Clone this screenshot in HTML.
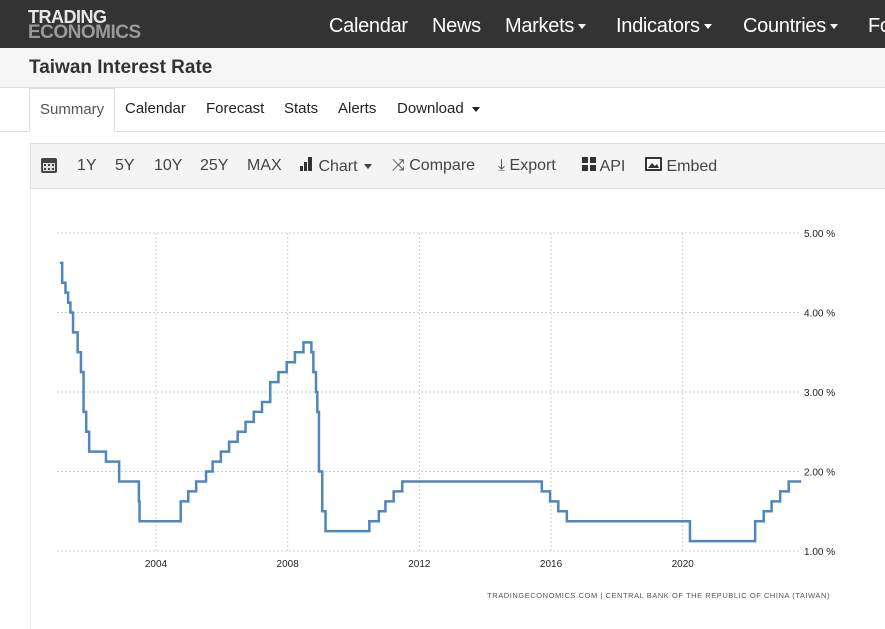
<!DOCTYPE html>
<html><head><meta charset="utf-8"><style>
*{margin:0;padding:0;box-sizing:border-box}
body{width:885px;height:628px;overflow:hidden;background:#fff;font-family:"Liberation Sans",Arial,sans-serif;position:relative}
.nav{position:absolute;left:0;top:0;width:885px;height:48px;background:#333}
.logo{position:absolute;left:28px;top:9px;font-weight:bold;font-size:18px;line-height:16px;letter-spacing:-0.5px}
.logo .a{color:#e8e8e8}.logo .b{color:#9a9a9a;font-size:19px}
.nav .it{position:absolute;top:15px;color:#fff;font-size:20px;white-space:nowrap;letter-spacing:-0.3px}
.caret{display:inline-block;width:0;height:0;border-left:4px solid transparent;border-right:4px solid transparent;border-top:5px solid currentColor;vertical-align:middle;margin-left:4px}
.title{position:absolute;left:0;top:48px;width:885px;height:40px;background:#f5f5f5;border-bottom:1px solid #ddd}
.title span{position:absolute;left:29px;top:9px;font-size:19px;font-weight:bold;color:#333}
.tabs{position:absolute;left:0;top:88px;width:885px;height:44px;border-bottom:1px solid #ddd}
.tab{position:absolute;top:12px;font-size:15px;color:#222}
.tab.sel{top:0;left:29px;width:86px;height:44px;border:1px solid #ddd;border-bottom:1px solid #fff;background:#fff;color:#555;padding:12px 0 0 10px}
.tool{position:absolute;left:30px;top:143px;width:860px;height:46px;background:#f4f4f4;border:1px solid #ddd}
.tool .t{position:absolute;top:13px;font-size:16px;color:#444;white-space:nowrap}
.chartbox{position:absolute;left:30px;top:189px;width:860px;height:440px;border-left:1px solid #eee}
</style></head><body>
<div class="nav">
 <div class="logo"><div class="a">TRADING</div><div class="b">ECONOMICS</div></div>
 <div class="it" style="left:329px">Calendar</div>
 <div class="it" style="left:432px">News</div>
 <div class="it" style="left:505px">Markets<span class="caret"></span></div>
 <div class="it" style="left:616px">Indicators<span class="caret"></span></div>
 <div class="it" style="left:743px">Countries<span class="caret"></span></div>
 <div class="it" style="left:868px">Fo</div>
</div>
<div class="title"><span>Taiwan Interest Rate</span></div>
<div class="tabs">
 <div class="tab sel">Summary</div>
 <div class="tab" style="left:125px">Calendar</div>
 <div class="tab" style="left:206px">Forecast</div>
 <div class="tab" style="left:284px">Stats</div>
 <div class="tab" style="left:338px">Alerts</div>
 <div class="tab" style="left:397px">Download<span class="caret" style="margin-left:8px"></span></div>
</div>
<div class="tool">
 <div class="t" style="left:9px;top:12px"><svg width="18" height="18"><rect x="1" y="2" width="16" height="15" rx="2" fill="#444"/><rect x="3" y="7" width="12" height="8" fill="#ddd"/><g fill="#444"><rect x="4" y="8" width="2" height="2"/><rect x="8" y="8" width="2" height="2"/><rect x="12" y="8" width="2" height="2"/><rect x="4" y="12" width="2" height="2"/><rect x="8" y="12" width="2" height="2"/><rect x="12" y="12" width="2" height="2"/></g></svg></div>
 <div class="t" style="left:46px">1Y</div>
 <div class="t" style="left:84px">5Y</div>
 <div class="t" style="left:123px">10Y</div>
 <div class="t" style="left:169px">25Y</div>
 <div class="t" style="left:216px">MAX</div>
 <div class="t" style="left:269px"><svg width="14" height="14"><rect x="0" y="9" width="3" height="5" fill="#333"/><rect x="4" y="5" width="3" height="9" fill="#333"/><rect x="8" y="0" width="4" height="14" fill="#333"/></svg> Chart<span class="caret" style="margin-left:6px"></span></div>
 <div class="t" style="left:361px">⤨ Compare</div>
 <div class="t" style="left:467px">⤓ Export</div>
 <div class="t" style="left:551px"><svg width="14" height="14"><rect x="0" y="0" width="6" height="6" fill="#333"/><rect x="8" y="0" width="6" height="6" fill="#333"/><rect x="0" y="8" width="6" height="6" fill="#333"/><rect x="8" y="8" width="6" height="6" fill="#333"/></svg> API</div>
 <div class="t" style="left:614px"><svg width="17" height="14"><rect x="0" y="0" width="17" height="14" rx="1" fill="#333"/><rect x="2" y="2" width="13" height="10" fill="#fff"/><path d="M3 11 L7 6 L10 9 L12 7 L14 11Z" fill="#333"/></svg> Embed</div>
</div>
<div class="chartbox"></div>
<svg id="chart" width="885" height="628" style="position:absolute;left:0;top:0"></svg>
<script>
const changeDates=[2001.08,2001.15,2001.25,2001.33,2001.40,2001.48,2001.62,2001.72,2001.80,2001.88,2001.97,2002.48,2002.88,2003.48,2003.50,2004.75,2004.98,2005.22,2005.52,2005.72,2005.97,2006.22,2006.48,2006.72,2006.97,2007.22,2007.47,2007.72,2007.97,2008.22,2008.48,2008.72,2008.78,2008.86,2008.90,2008.95,2009.05,2009.15,2010.48,2010.77,2010.97,2011.22,2011.48,2015.72,2015.97,2016.22,2016.48,2020.22,2022.20,2022.46,2022.70,2022.96,2023.22];
const rates=[4.625,4.375,4.25,4.125,4.0,3.75,3.5,3.25,2.75,2.5,2.25,2.125,1.875,1.625,1.375,1.625,1.75,1.875,2.0,2.125,2.25,2.375,2.5,2.625,2.75,2.875,3.125,3.25,3.375,3.5,3.625,3.5,3.25,3.0,2.75,2.0,1.5,1.25,1.375,1.5,1.625,1.75,1.875,1.75,1.625,1.5,1.375,1.125,1.375,1.5,1.625,1.75,1.875];
const endDate=2023.6;
const xTicks=[2004,2008,2012,2016,2020];
const yTicks=[1,2,3,4,5];
const yLabels=["1.00 %","2.00 %","3.00 %","4.00 %","5.00 %"];
const svg=document.getElementById('chart');const NS='http://www.w3.org/2000/svg';
const x=v=>156+(v-2004)*32.92;
const y=v=>551-(v-1)*79.5;
function mk(t,a){const e=document.createElementNS(NS,t);for(const k in a)e.setAttribute(k,a[k]);svg.appendChild(e);return e;}
yTicks.forEach((v,i)=>{
 const l=mk('line',{x1:57,x2:800,y1:y(v),y2:y(v),stroke:'#ccc','stroke-dasharray':'2,2'});
 
 
 const t=mk('text',{x:804,y:y(v)+4,'font-size':'10','fill':'#222','font-family':'Liberation Sans, sans-serif'});
 t.textContent=yLabels[i];
 
 
});
xTicks.forEach(v=>{
 const l=mk('line',{x1:x(v),x2:x(v),y1:233,y2:551,stroke:'#ccc','stroke-dasharray':'2,2'});
 
 
 const t=mk('text',{x:x(v),y:567,'font-size':'10','fill':'#222','text-anchor':'middle','font-family':'Liberation Sans, sans-serif'});
 t.textContent=String(v);
 
 
});
let d='M'+x(changeDates[0])+' '+y(rates[0]);
for(let i=1;i<changeDates.length;i++){d+=' H'+x(changeDates[i])+' V'+y(rates[i]);}
d+=' H'+x(endDate);
const p=mk('path',{d:d,fill:'none',stroke:'#4f86bd','stroke-width':'2.5'});


const s=mk('text',{x:830,y:598,'font-size':'7.5','fill':'#555','text-anchor':'end','font-family':'Liberation Sans, sans-serif','letter-spacing':'0.55'});
s.textContent='TRADINGECONOMICS.COM  |  CENTRAL BANK OF THE REPUBLIC OF CHINA (TAIWAN)';


</script>
</body></html>
